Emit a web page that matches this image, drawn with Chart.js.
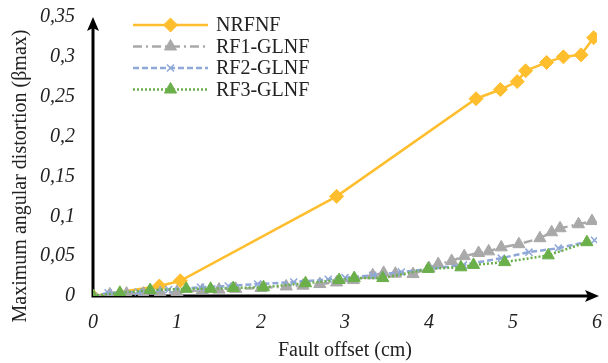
<!DOCTYPE html>
<html>
<head>
<meta charset="utf-8">
<script src="https://cdn.jsdelivr.net/npm/chart.js@4"></script>
<style>
    body { margin: 0; background: #fff; }
</style>
</head>
<body>
<canvas id="chart" width="608" height="363"></canvas>
<script>
const nrfnfX = [0, 0.79, 1.04, 2.9, 4.56, 4.85, 5.05, 5.15, 5.4, 5.6, 5.81, 5.96];
const nrfnfY = [0, 0.0125, 0.019, 0.125, 0.2475, 0.259, 0.269, 0.2825, 0.293, 0.30, 0.3025, 0.324];

const rf1X = [0, 0.2, 0.4, 0.6, 0.8, 1.0, 1.3, 1.5, 1.7, 2.0, 2.3, 2.5, 2.7, 2.9, 3.1, 3.33, 3.46, 3.6, 3.81, 4.0, 4.11, 4.27, 4.42, 4.59, 4.71, 4.86, 5.07, 5.32, 5.46, 5.56, 5.78, 5.94];
const rf1Y = [0, 0.002, 0.003, 0.003, 0.004, 0.005, 0.007, 0.008, 0.009, 0.010, 0.012, 0.013, 0.015, 0.017, 0.02, 0.026, 0.029, 0.028, 0.0275, 0.035, 0.04, 0.044, 0.05, 0.054, 0.056, 0.061, 0.065, 0.0725, 0.08, 0.085, 0.09, 0.094];

const rf2X = [0, 0.18, 0.54, 0.9, 1.28, 1.61, 1.96, 2.39, 2.8, 3.0, 3.33, 3.67, 4.0, 4.41, 4.86, 5.19, 5.54, 5.97];
const rf2Y = [0, 0.004, 0.005, 0.008, 0.011, 0.0125, 0.015, 0.0175, 0.021, 0.023, 0.026, 0.03, 0.034, 0.039, 0.0475, 0.055, 0.06, 0.07];

const rf3X = [0, 0.32, 0.68, 1.11, 1.4, 1.67, 2.03, 2.53, 2.93, 3.11, 3.45, 3.99, 4.38, 4.53, 4.9, 5.42, 5.88];
const rf3Y = [0, 0.004, 0.0075, 0.009, 0.009, 0.01, 0.011, 0.016, 0.02, 0.0225, 0.0225, 0.034, 0.036, 0.039, 0.0425, 0.051, 0.0675];

const xTicks = [0, 1, 2, 3, 4, 5, 6];
const yTicks = [0, 0.05, 0.1, 0.15, 0.2, 0.25, 0.3, 0.35];
const yTitle = "Maximum angular distortion (βmax)";

function toPoints(xs, ys) {
    return xs.map((x, i) => ({ x: x, y: ys[i] }));
}

// arrows for both axes, drawn under the markers
const arrowAxes = {
    id: "arrowAxes",
    beforeDatasetsDraw(chart) {
        const ctx = chart.ctx;
        const x = chart.scales.x;
        const y = chart.scales.y;
        const x0 = x.getPixelForValue(0);
        const y0 = y.getPixelForValue(0);
        const xEnd = x.getPixelForValue(6) + 2;
        const yEnd = y.getPixelForValue(0.35);
        ctx.save();
        ctx.strokeStyle = "#000";
        ctx.fillStyle = "#000";
        ctx.lineWidth = 3;
        ctx.beginPath();
        ctx.moveTo(x0, y0 + 1.5);
        ctx.lineTo(x0, yEnd + 10);
        ctx.moveTo(x0 - 1.5, y0);
        ctx.lineTo(xEnd - 10, y0);
        ctx.stroke();
        ctx.beginPath();
        ctx.moveTo(x0, yEnd);
        ctx.lineTo(x0 - 6, yEnd + 14);
        ctx.lineTo(x0, yEnd + 11);
        ctx.lineTo(x0 + 6, yEnd + 14);
        ctx.closePath();
        ctx.fill();
        ctx.beginPath();
        ctx.moveTo(xEnd, y0);
        ctx.lineTo(xEnd - 14, y0 - 6);
        ctx.lineTo(xEnd - 11, y0);
        ctx.lineTo(xEnd - 14, y0 + 6);
        ctx.closePath();
        ctx.fill();
        ctx.restore();
    }
};

// legend with line sample and marker in the middle, plus the y title
const lineLegend = {
    id: "lineLegend",
    afterDraw(chart) {
        const ctx = chart.ctx;
        const left = 133, top = 25, rowH = 21.5, sample = 75;
        ctx.save();
        chart.data.datasets.forEach((ds, i) => {
            const cy = top + i * rowH;
            ctx.strokeStyle = ds.borderColor;
            ctx.lineWidth = ds.borderWidth;
            ctx.setLineDash(ds.borderDash || []);
            ctx.beginPath();
            ctx.moveTo(left, cy);
            ctx.lineTo(left + sample, cy);
            ctx.stroke();
            ctx.setLineDash([]);
            ctx.fillStyle = ds.backgroundColor;
            ctx.strokeStyle = ds.borderColor;
            ctx.lineWidth = ds.pointBorderWidth || 1;
            Chart.helpers.drawPoint(ctx, {
                pointStyle: ds.pointStyle,
                radius: ds.pointRadius,
                borderWidth: ds.pointBorderWidth || 1
            }, left + sample / 2, cy);
            ctx.fillStyle = "#222";
            ctx.font = "20px 'Liberation Serif'";
            ctx.textBaseline = "middle";
            ctx.fillText(ds.label, left + sample + 8, cy + 1);
        });

        ctx.translate(21, 176);
        ctx.rotate(-Math.PI / 2);
        ctx.fillStyle = "#222";
        ctx.font = "20px 'Liberation Serif'";
        ctx.textAlign = "center";
        ctx.textBaseline = "middle";
        ctx.fillText(yTitle, 0, 0);
        ctx.restore();
    }
};

const ctx = document.getElementById("chart").getContext("2d");

new Chart(ctx, {
    type: "scatter",
    data: {
        datasets: [{
            label: "NRFNF",
            data: toPoints(nrfnfX, nrfnfY),
            showLine: true,
            borderColor: "#FFBE2E",
            backgroundColor: "#FFBE2E",
            borderWidth: 2.5,
            pointStyle: "rectRot",
            pointRadius: 7,
            pointBorderWidth: 1,
            order: 4
        }, {
            label: "RF1-GLNF",
            data: toPoints(rf1X, rf1Y),
            showLine: true,
            borderColor: "#A9A9A9",
            backgroundColor: "#A9A9A9",
            borderWidth: 2.5,
            borderDash: [9, 4, 2, 4],
            pointStyle: "triangle",
            pointRadius: 7,
            pointBorderWidth: 1,
            order: 3
        }, {
            label: "RF2-GLNF",
            data: toPoints(rf2X, rf2Y),
            showLine: true,
            borderColor: "#8FA8D8",
            backgroundColor: "#8FA8D8",
            borderWidth: 2.5,
            borderDash: [6, 3],
            pointStyle: "crossRot",
            pointRadius: 5,
            pointBorderWidth: 1.5,
            order: 2
        }, {
            label: "RF3-GLNF",
            data: toPoints(rf3X, rf3Y),
            showLine: true,
            borderColor: "#6AAF4A",
            backgroundColor: "#6AAF4A",
            borderWidth: 2.5,
            borderDash: [2, 2],
            pointStyle: "triangle",
            pointRadius: 7,
            pointBorderWidth: 1,
            order: 1
        }]
    },
    options: {
        responsive: false,
        animation: false,
        layout: { padding: { top: 17, right: 11, left: 0, bottom: 0 } },
        plugins: {
            legend: { display: false },
            tooltip: { enabled: false }
        },
        scales: {
            x: {
                type: "linear",
                min: 0,
                max: 6,
                afterBuildTicks(scale) {
                    scale.ticks = xTicks.map(v => ({ value: v }));
                },
                afterFit(scale) {
                    scale.height = 67;
                    scale.paddingLeft = 0;
                    scale.paddingRight = 0;
                },
                grid: { display: false, drawTicks: false },
                border: { display: false },
                ticks: {
                    padding: 15,
                    color: "#222",
                    font: { family: "'Liberation Serif'", size: 20, style: "italic" },
                    maxRotation: 0
                },
                title: {
                    display: true,
                    text: "Fault offset (cm)",
                    color: "#222",
                    font: { family: "'Liberation Serif'", size: 20 },
                    padding: { top: 6, bottom: 0 }
                }
            },
            y: {
                type: "linear",
                min: 0,
                max: 0.35,
                afterBuildTicks(scale) {
                    scale.ticks = yTicks.map(v => ({ value: v }));
                },
                afterFit(scale) {
                    scale.width = 93;
                    scale.paddingTop = 0;
                    scale.paddingBottom = 0;
                },
                grid: { display: false, drawTicks: false },
                border: { display: false },
                ticks: {
                    padding: 18,
                    color: "#222",
                    font: { family: "'Liberation Serif'", size: 20, style: "italic" },
                    callback: v => String(Math.round(v * 100) / 100).replace(".", ",")
                },
                title: { display: false }
            }
        }
    },
    plugins: [arrowAxes, lineLegend]
});
</script>
</body>
</html>
